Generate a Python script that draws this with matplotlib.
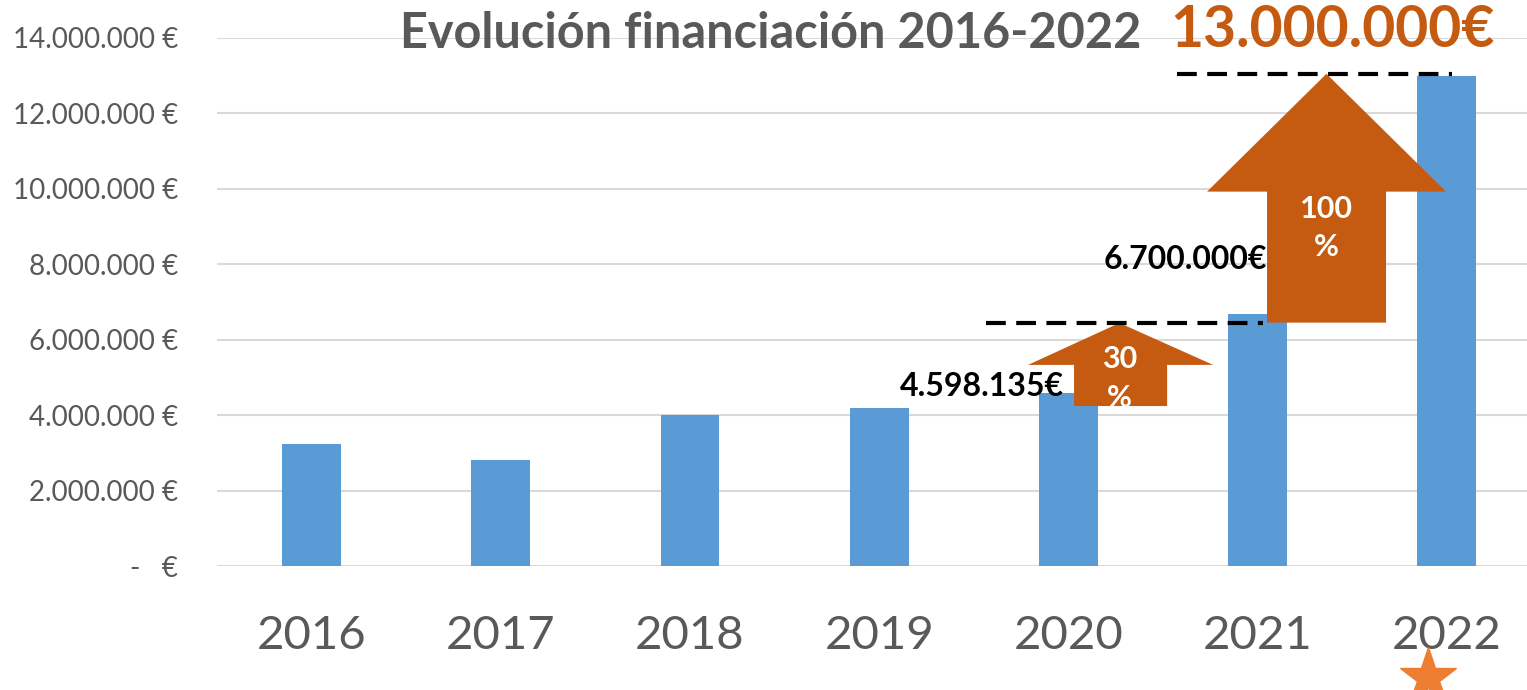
import matplotlib
matplotlib.use("Agg")
import matplotlib.pyplot as plt
from matplotlib.patches import Polygon
from matplotlib.ticker import FuncFormatter
from matplotlib.transforms import blended_transform_factory

plt.rcParams['font.family'] = ['Lato', 'DejaVu Sans']

# Data
years = ['2016', '2017', '2018', '2019', '2020', '2021', '2022']
funding = [3240000, 2820000, 4010000, 4210000, 4598135, 6700000, 13000000]

bar_color = '#5B9BD5'
orange = '#C55A11'
star_color = '#ED7D31'
gray = '#595959'


def euro_fmt(v, pos):
    if v == 0:
        return '-   €'
    return f"{int(v):,}".replace(",", ".") + " €"


# Draw an up-arrow (block arrow) as a polygon
def up_arrow(ax, x_tip, y_tip, head_left, head_right, head_base, shaft_left, shaft_right, y_bottom):
    pts = [(x_tip, y_tip), (head_right, head_base), (shaft_right, head_base),
           (shaft_right, y_bottom), (shaft_left, y_bottom), (shaft_left, head_base),
           (head_left, head_base)]
    patch = Polygon(pts, closed=True, facecolor=orange, edgecolor='none', zorder=4, clip_on=False)
    ax.add_patch(patch)
    return patch


fig = plt.figure(figsize=(15.27, 6.9), dpi=100)
ax = fig.add_axes([0.1421, 0.179, 0.8579, 0.766])

x = list(range(len(years)))
ax.bar(x, funding, width=0.31, color=bar_color, zorder=3)

ax.set_xlim(-0.5, 6.424)
ax.set_ylim(0, 14000000)
ax.set_yticks(range(0, 14000001, 2000000))
ax.yaxis.set_major_formatter(FuncFormatter(euro_fmt))
ax.set_xticks(x)
ax.set_xticklabels(years)

ax.grid(axis='y', color='#D9D9D9', linewidth=1.5, zorder=0)
ax.set_axisbelow(True)
for s in ax.spines.values():
    s.set_visible(False)
ax.tick_params(axis='y', length=0, pad=28, labelsize=20, labelcolor=gray)
ax.tick_params(axis='x', length=0, pad=35, labelsize=34, labelcolor=gray)

# Dashed reference lines
ax.plot([3.565, 5.03], [6450000, 6450000], color='black', linewidth=3,
        dashes=(4.75, 2.5), zorder=5)
ax.plot([4.574, 6.028], [13050000, 13050000], color='black', linewidth=3,
        dashes=(4.75, 2.5), zorder=5, clip_on=False)

# Growth arrows
a30 = up_arrow(ax, 4.27, 6450000, 3.787, 4.765, 5340000, 4.030, 4.522, 4250000)
a100 = up_arrow(ax, 5.364, 13050000, 4.733, 5.996, 9930000, 5.050, 5.679, 6460000)

t30 = ax.text(4.27, 4980000, '30\n%', color='white', fontsize=22, fontweight='bold',
              ha='center', va='center', linespacing=1.45, zorder=6)
t30.set_clip_path(a30)
ax.text(5.364, 8960000, '100\n%', color='white', fontsize=22, fontweight='bold',
        ha='center', va='center', linespacing=1.45, zorder=6)

# Value labels
ax.text(3.545, 4780000, '4.598.135€', color='black', fontsize=23, fontweight='bold',
        ha='center', va='center', zorder=7)
ax.text(4.62, 8120000, '6.700.000€', color='black', fontsize=23, fontweight='bold',
        ha='center', va='center', zorder=7)
ax.text(5.394, 14200000, '13.000.000€', color=orange, fontsize=41, fontweight='bold',
        ha='center', va='center', zorder=7)

# Title
ax.text(2.424, 14110000, 'Evolución financiación 2016-2022', color=gray, fontsize=35,
        fontweight='bold', ha='center', va='center', zorder=7)

# Star under 2022
trans = blended_transform_factory(ax.transData, ax.transAxes)
ax.plot([5.9], [-0.21], marker='*', markersize=43, color=star_color,
        transform=trans, clip_on=False, zorder=7)

fig.savefig('out.png', dpi=100)
